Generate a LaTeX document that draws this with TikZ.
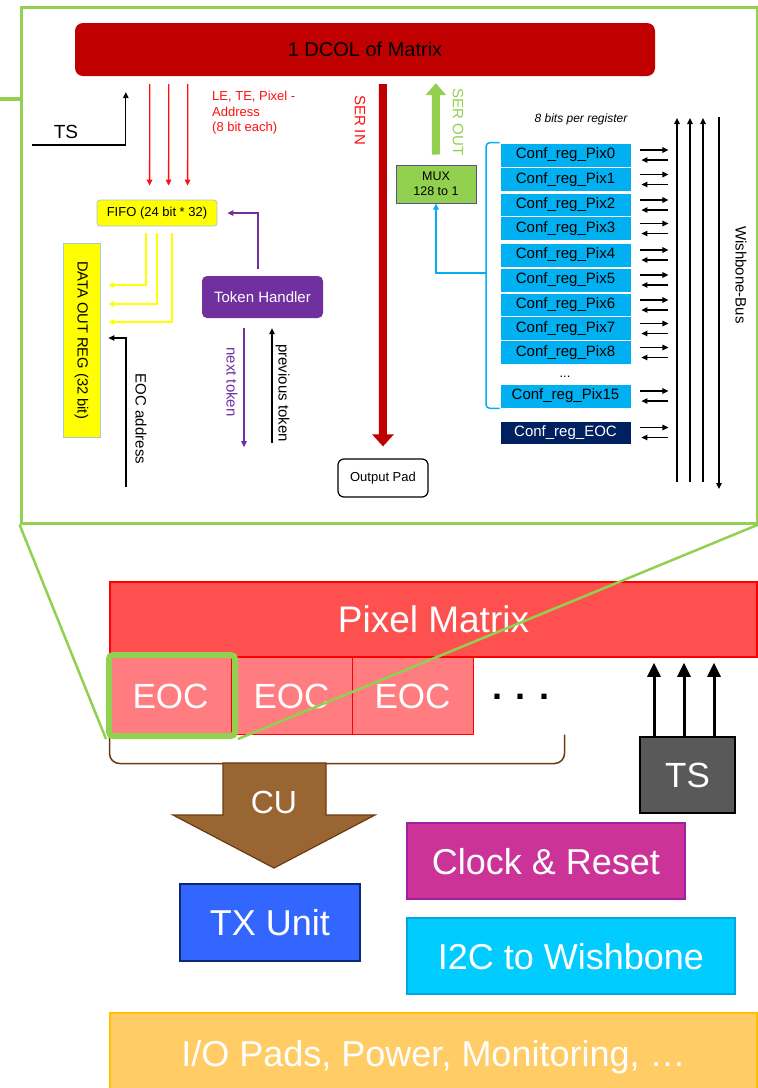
\documentclass[tikz,border=0pt]{standalone}
\usepackage{fontspec}
\setmainfont{Liberation Sans}
\setsansfont{Liberation Sans}
\usepackage{graphicx}
\usetikzlibrary{arrows.meta,calc}

\definecolor{frgreen}{HTML}{92D050}
\definecolor{dcolred}{HTML}{C00000}
\definecolor{sigred}{HTML}{FF1010}
\definecolor{fifoyel}{HTML}{FFFF00}
\definecolor{boxedge}{HTML}{A9C4E4}
\definecolor{tokpurple}{HTML}{7030A0}
\definecolor{cfgblue}{HTML}{00B0F0}
\definecolor{cfgnavy}{HTML}{002060}
\definecolor{muxedge}{HTML}{5B4F8F}
\definecolor{pmfill}{HTML}{FF5050}
\definecolor{pmedge}{HTML}{FF0000}
\definecolor{eocfill}{HTML}{FF7C80}
\definecolor{cubrown}{HTML}{996633}
\definecolor{cuedge}{HTML}{6B3A0F}
\definecolor{tsgray}{HTML}{595959}
\definecolor{clkfill}{HTML}{CC3399}
\definecolor{clkedge}{HTML}{A0209F}
\definecolor{txfill}{HTML}{3366FF}
\definecolor{txedge}{HTML}{0C2A78}
\definecolor{i2cfill}{HTML}{00CCFF}
\definecolor{i2cedge}{HTML}{00A6DE}
\definecolor{iofill}{HTML}{FFCC66}
\definecolor{ioedge}{HTML}{FFC000}

\newcommand\fsz[2]{\fontsize{#1}{#2}\selectfont}

\begin{document}
\begin{tikzpicture}[x=1pt, y=-1pt,
  frame/.style={draw=frgreen, line width=3pt, fill=white, minimum width=736pt,
    minimum height=516pt, inner sep=0pt},
  lbl/.style={inner sep=0pt, font=\fsz{15}{18}},
  tip/.style={-{Triangle[length=6pt,width=5.5pt]}},
  thinarr/.style={draw=black, line width=1.2pt, tip},
  redarr/.style={draw=sigred, line width=1.3pt, tip},
  yelarr/.style={draw=fifoyel, line width=1.3pt, tip},
  purarr/.style={draw=tokpurple, line width=1.3pt, tip},
  cfgln/.style={draw=cfgblue, line width=1.5pt},
  conf/.style={fill=cfgblue, draw=white, line width=0.8pt, minimum width=131pt,
    minimum height=24pt, inner sep=0pt, font=\fsz{15}{18}},
  bigbox/.style={inner sep=0pt, text=white, font=\fsz{36}{40},
    text height=26pt, text depth=0pt},
  tsarr/.style={draw=black, line width=3pt, -{Triangle[length=14pt,width=13pt]}},
]
\useasboundingbox (0,0) rectangle (758,1088);

% ---------- DCOL detail frame ----------
\node[frame] (inset) at (389,265) {};
\coordinate (lnk) at (0,99);
\draw[frgreen, line width=4pt] (lnk) -- (lnk -| inset.west);

\node[fill=dcolred, rounded corners=8pt, minimum width=580pt, minimum height=53pt,
  inner sep=0pt, font=\fsz{20}{24}] (dcol) at (365,49.5) {1 DCOL of Matrix};

% time stamp input
\coordinate (tsin) at (32,145);
\draw[thinarr] (tsin) -| ($(dcol.south west)+(51,16)$);
\node[inner sep=0pt, font=\fsz{19}{22}] (tslbl) at (66,132) {TS};

% FIFO and data path
\node[fill=fifoyel, draw=boxedge, line width=0.8pt, rounded corners=3pt,
  minimum width=120pt, minimum height=26pt, inner sep=0pt, font=\fsz{13}{16}]
  (fifo) at (157,213) {FIFO (24 bit * 32)};
\foreach \a/\b in {75/53, 94/72, 113/91}
  \draw[redarr] ($(dcol.south west)+(\a,8)$) -- ($(fifo.north west)+(\b,-14)$);
\node[anchor=north west, inner sep=0pt, align=left, text=sigred,
  font=\fsz{13}{15.5}] (lelbl) at (212,91) {LE, TE, Pixel -\\Address\\(8 bit each)};

\node[fill=fifoyel, draw=boxedge, line width=0.8pt, minimum width=37pt,
  minimum height=194pt, inner sep=0pt, font=\fsz{14.7}{17}]
  (dout) at (81.5,340) {\rotatebox{-90}{DATA OUT REG (32 bit)}};
\foreach \s/\t in {-11/55, 0/36, 15/18}
  \draw[yelarr] ($(fifo.south)+(\s,7)$) |- ($(dout.east)+(8,-\t)$);

\coordinate (eocad) at (126,487);
\draw[thinarr] (eocad) |- ($(dout.east)+(8,-2)$);
\node[lbl] (eoclbl) at (141,419) {\rotatebox{-90}{EOC address}};

% token handling
\node[fill=tokpurple, rounded corners=5pt, minimum width=121pt, minimum height=42pt,
  inner sep=0pt, text=white, font=\fsz{15}{18}] (token) at (262.5,297) {Token Handler};
\draw[purarr] ($(token.north)+(-4.5,-7)$) |- ($(fifo.east)+(10,0)$);
\draw[purarr] ($(token.south)+(-18.5,10)$) -- ++(0,119);
\node[lbl, text=tokpurple] (nextlbl) at (232,382) {\rotatebox{-90}{next token}};
\coordinate (prevtok) at (272,443);
\draw[thinarr] (prevtok) -- ($(token.south)+(9.5,10)$);
\node[lbl] (prevlbl) at (282.5,393) {\rotatebox{-90}{previous token}};

% serial in / out
\node[draw=black, line width=1.2pt, fill=white, rounded corners=6pt,
  minimum width=90pt, minimum height=38pt, inner sep=0pt, font=\fsz{13}{16}]
  (opad) at (383,478) {Output Pad};
\draw[draw=dcolred, line width=8pt, -{Triangle[length=12pt,width=21pt]}]
  ($(dcol.south west)+(308,8)$) -- ($(opad.north)+(0,-12)$);
\node[lbl, text=sigred] (serin) at (360,120) {\rotatebox{-90}{SER IN}};

\node[fill=frgreen, draw=muxedge, line width=1pt, minimum width=80pt,
  minimum height=38pt, inner sep=0pt, align=center, font=\fsz{12.5}{15}]
  (mux) at (436,184) {MUX\\128 to 1};
\draw[draw=frgreen, line width=8pt, -{Triangle[length=12pt,width=20pt]}]
  ($(mux.north)+(0,-10)$) -- ($(dcol.south west)+(361,7)$);
\node[lbl, text=frgreen] (serout) at (458,122) {\rotatebox{-90}{SER OUT}};

% configuration registers
\node[inner sep=0pt, font=\fsz{12}{14}\itshape] (bitslbl) at (581,119) {8 bits per register};
\node[conf] (p0) at (565.5,155) {Conf\_reg\_Pix0};
\node[conf] (p1) at (565.5,179.5) {Conf\_reg\_Pix1};
\node[conf] (p2) at (565.5,205) {Conf\_reg\_Pix2};
\node[conf] (p3) at (565.5,228.5) {Conf\_reg\_Pix3};
\node[conf] (p4) at (565.5,255) {Conf\_reg\_Pix4};
\node[conf] (p5) at (565.5,280) {Conf\_reg\_Pix5};
\node[conf] (p6) at (565.5,305) {Conf\_reg\_Pix6};
\node[conf] (p7) at (565.5,328.5) {Conf\_reg\_Pix7};
\node[conf] (p8) at (565.5,352.5) {Conf\_reg\_Pix8};
\node[inner sep=0pt, font=\fsz{13}{15}] (cdots) at (565,377) {...};
\node[conf] (p15) at (565.5,396) {Conf\_reg\_Pix15};
\node[conf, fill=cfgnavy, text=white, minimum height=23pt] (peoc) at (565.5,432.5) {Conf\_reg\_EOC};

\coordinate (bj) at (486,273);
\draw[cfgln, rounded corners=4pt] (p0.north west) -| (bj) |- (p15.south west);
\draw[cfgln, tip] (bj) -| (mux.south);

\foreach \n in {p0,p1,p2,p3,p4,p5,p6,p7,p8,p15,peoc} {
  \draw[thinarr] ($(\n.east)+(9,-5)$) -- ++(28,0);
  \draw[thinarr] ($(\n.east)+(37,5)$) -- ++(-27,0);
}

% wishbone bus
\foreach \x/\n in {677/a, 690/b, 703/c} {
  \coordinate (bus\n top) at (\x,118);
  \coordinate (bus\n bot) at (\x,482);
  \draw[thinarr] (bus\n bot) -- (bus\n top);
}
\coordinate (busdtop) at (719,117);
\coordinate (busdbot) at (719,489);
\draw[thinarr] (busdtop) -- (busdbot);
\node[lbl] (wbus) at (741,275) {\rotatebox{-90}{Wishbone-Bus}};

% ---------- chip floor plan ----------
\node[bigbox, fill=pmfill, draw=pmedge, line width=1.5pt, minimum width=647pt,
  minimum height=75pt, font=\fsz{37}{40}] (pm) at (433.5,619.5) {Pixel Matrix};
\foreach \i/\x in {1/170.5, 2/291.5, 3/412.5}
  \node[bigbox, fill=eocfill, draw=pmedge, line width=1pt, minimum width=121pt,
    minimum height=77pt, font=\fsz{35}{40}, text height=25pt] (eoc\i) at (\x,695.5) {EOC};
\node[inner sep=0pt, font=\fsz{36}{40}\bfseries] (mdots) at (521,697) {. . .};

\draw[cuedge, line width=1.5pt, rounded corners=10pt]
  (eoc1.south west) -- ++(0,29) -| ($(eoc3.south east)+(91,0)$);

\filldraw[fill=cubrown, draw=cuedge, line width=1.2pt]
  (223,763) -- (326,763) -- (326,815) -- (375,815) -- (274,868)
  -- (173,815) -- (223,815) -- cycle;
\node[bigbox, font=\fsz{32}{36}, text height=23pt] (cu) at (274,801.5) {CU};

\node[bigbox, fill=tsgray, draw=black, line width=2pt, minimum width=95pt,
  minimum height=76pt, font=\fsz{35}{40}, text height=25pt] (ts) at (687.5,775) {TS};
\foreach \d in {15,45,75}
  \draw[tsarr] ($(ts.north west)+(\d,0)$) -- ($(ts.north west |- pm.south)+(\d,5)$);

\node[bigbox, fill=clkfill, draw=clkedge, line width=1.5pt, minimum width=278pt,
  minimum height=76pt] (clk) at (546,861) {Clock \& Reset};
\node[bigbox, fill=txfill, draw=txedge, line width=2pt, minimum width=180pt,
  minimum height=77pt] (tx) at (270,922.5) {TX Unit};
\node[bigbox, fill=i2cfill, draw=i2cedge, line width=1.5pt, minimum width=328pt,
  minimum height=76pt] (i2c) at (571,956) {I2C to Wishbone};
\node[bigbox, fill=iofill, draw=ioedge, line width=1.5pt, minimum width=647pt,
  minimum height=80pt] (io) at (433.5,1053) {I/O Pads, Power, Monitoring, …};

% zoom marker and its projection lines
\node[draw=frgreen, line width=6pt, rounded corners=4pt, minimum width=126pt,
  minimum height=81pt, inner sep=0pt] (eochl) at (172,695.5) {};
\draw[frgreen, line width=2.5pt] (inset.south west) -- (eochl.south west);
\draw[frgreen, line width=2.5pt] (inset.south east) -- (eochl.south east);
\end{tikzpicture}
\end{document}
